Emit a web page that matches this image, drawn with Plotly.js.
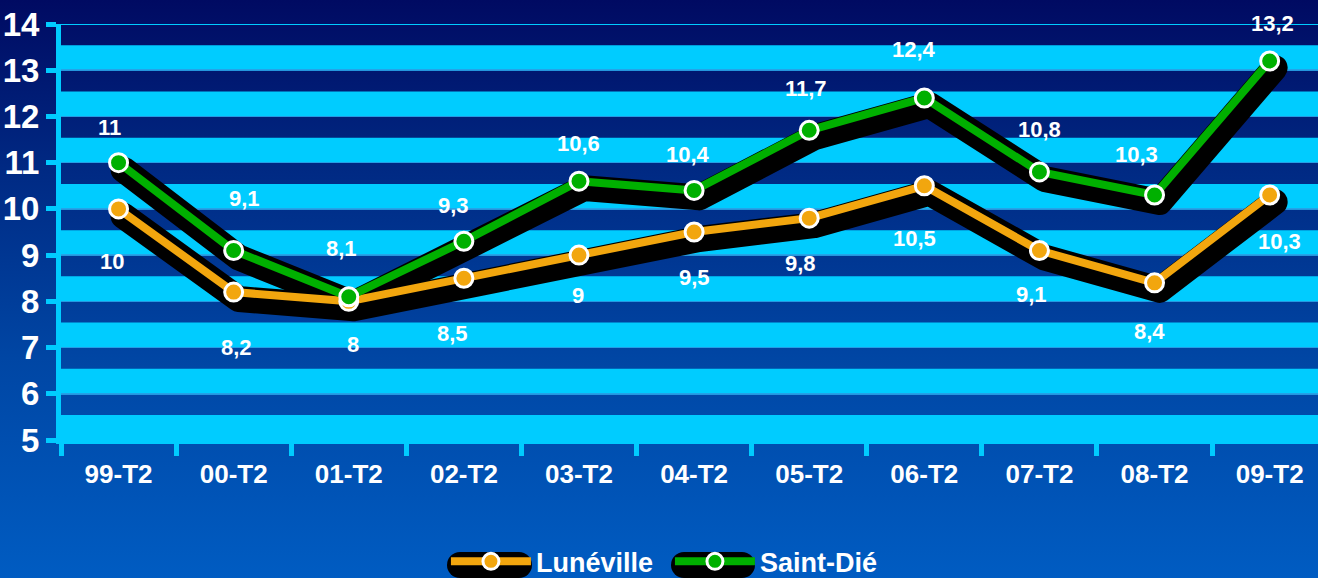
<!DOCTYPE html>
<html>
<head>
<meta charset="utf-8">
<script src="https://cdn.plot.ly/plotly-3.0.1.min.js"></script>
<style>
  html, body { margin: 0; padding: 0; overflow: hidden; }
  #chart {
    width: 1318px; height: 578px;
    background: linear-gradient(to bottom, #000A62 0%, #002A84 30%, #0046A4 62%, #005CC2 100%);
  }
  .scatterlayer .js-line { stroke-linejoin: round; stroke-linecap: round; }
</style>
</head>
<body>
<div id="chart"></div>
<script>
// ---- data ----
var categories = ['99-T2', '00-T2', '01-T2', '02-T2', '03-T2', '04-T2', '05-T2', '06-T2', '07-T2', '08-T2', '09-T2'];
var luneville = [10, 8.2, 8, 8.5, 9, 9.5, 9.8, 10.5, 9.1, 8.4, 10.3];
var saintDie = [11, 9.1, 8.1, 9.3, 10.6, 10.4, 11.7, 12.4, 10.8, 10.3, 13.2];
var yTickValues = [5, 6, 7, 8, 9, 10, 11, 12, 13, 14];

// ---- label placement (pixel offsets from each point) ----
var lunevilleLabelDx = [-7, 3, 4, -11, -1, 0, -9, -10, -8, -5, 10];
var lunevilleLabelDy = [53, 55, 43, 55, 40, 45, 45, 53, 44, 49, 46];
var saintDieLabelDx = [-9, 11, -7, -10, 0, -6, -3, -10, 0, -18, 3];
var saintDieLabelDy = [-35, -52, -48, -36, -38, -36, -42, -48, -42, -41, -37];

// ---- styles ----
var CYAN = '#00CCFF';
var ORANGE = '#F2A60E';
var GREEN = '#00B000';
var SHADOW_DX = 5, SHADOW_DY = 7;
var CAT_PX = 115.1, UNIT_PX = 46.29;
var xRange = [-0.5, 10.42];
var yRange = [5, 14];
var PLOT_L = 61, PLOT_R = 1318, PLOT_T = 24, PLOT_B = 440;

function fmt(v) { return String(v).replace('.', ','); }

// shadows live on the base (hidden, shifted) axes so they are drawn first
function shadowTrace(vals) {
  return {
    x: categories, y: vals, type: 'scatter', mode: 'lines',
    xaxis: 'x', yaxis: 'y', showlegend: false, hoverinfo: 'skip',
    line: { color: '#000000', width: 26 }
  };
}
function mainTrace(name, vals, color) {
  return {
    x: categories, y: vals, type: 'scatter', mode: 'lines+markers', name: name,
    xaxis: 'x2', yaxis: 'y2',
    line: { color: color, width: 8 },
    marker: { symbol: 'circle', size: 18, color: color, line: { color: '#FFFFFF', width: 3 } }
  };
}

var traces = [
  shadowTrace(luneville),
  shadowTrace(saintDie),
  mainTrace('Lunéville', luneville, ORANGE),
  mainTrace('Saint-Dié', saintDie, GREEN)
];

var labelFont = { family: 'Liberation Sans, Arial, sans-serif', size: 22, color: '#FFFFFF', weight: 'bold' };
var annotations = [];
function addLabels(vals, dxs, dys) {
  for (var i = 0; i < vals.length; i++) {
    annotations.push({
      x: categories[i], y: vals[i], xref: 'x2', yref: 'y2',
      text: fmt(vals[i]), showarrow: false,
      xanchor: 'center', yanchor: 'middle',
      xshift: dxs[i], yshift: -dys[i],
      font: labelFont
    });
  }
}
addLabels(luneville, lunevilleLabelDx, lunevilleLabelDy);
addLabels(saintDie, saintDieLabelDx, saintDieLabelDy);

// cyan stripes (lower part of each unit band)
var shapes = [];
for (var k = 0; k < yTickValues.length - 1; k++) {
  shapes.push({
    type: 'rect', xref: 'paper', yref: 'y2', x0: 0, x1: 1,
    y0: yTickValues[k], y1: yTickValues[k] + 0.54,
    fillcolor: CYAN, line: { width: 0 }, layer: 'below'
  });
}
shapes.push({
  type: 'line', xref: 'paper', yref: 'y2', x0: 0, x1: 1,
  y0: yRange[1], y1: yRange[1], line: { color: CYAN, width: 2 }, layer: 'below'
});

// black rounded "shadow" pills behind the legend symbols (pixel geometry)
function px2paperX(px) { return (px - PLOT_L) / (PLOT_R - PLOT_L); }
function px2paperY(py) { return (PLOT_B - py) / (PLOT_B - PLOT_T); }
function pill(x0, x1, cy, r) {
  var out = [];
  out.push({ type: 'rect', xref: 'paper', yref: 'paper', xsizemode: 'pixel', ysizemode: 'pixel',
    xanchor: px2paperX(x0 + r), yanchor: px2paperY(cy),
    x0: 0, x1: (x1 - x0 - 2 * r), y0: -r, y1: r,
    fillcolor: '#000000', line: { width: 0 }, layer: 'above' });
  [x0 + r, x1 - r].forEach(function (c) {
    out.push({ type: 'circle', xref: 'paper', yref: 'paper', xsizemode: 'pixel', ysizemode: 'pixel',
      xanchor: px2paperX(c), yanchor: px2paperY(cy),
      x0: -r, x1: r, y0: -r, y1: r,
      fillcolor: '#000000', line: { width: 0 }, layer: 'above' });
  });
  return out;
}
shapes = shapes.concat(pill(447, 532, 565, 13), pill(671, 755, 565, 13));

var tickFontY = { family: 'Liberation Sans, Arial, sans-serif', size: 33, color: '#FFFFFF', weight: 'bold' };
var tickFontX = { family: 'Liberation Sans, Arial, sans-serif', size: 26, color: '#FFFFFF', weight: 'bold' };

var layout = {
  width: 1318, height: 578,
  margin: { l: PLOT_L, r: 1318 - PLOT_R, t: PLOT_T, b: 578 - PLOT_B },
  paper_bgcolor: 'rgba(0,0,0,0)',
  plot_bgcolor: 'rgba(0,0,0,0)',
  showlegend: true,
  legend: {
    orientation: 'h', xref: 'container', yref: 'container',
    x: 0.5083, xanchor: 'center', y: 0.028, yanchor: 'middle',
    bgcolor: 'rgba(0,0,0,0)', itemwidth: 80, entrywidth: 129,
    font: { family: 'Liberation Sans, Arial, sans-serif', size: 27, color: '#FFFFFF', weight: 'bold' }
  },
  // hidden, shifted axes carrying the drop shadows
  xaxis: {
    type: 'category', visible: false,
    range: [xRange[0] - SHADOW_DX / CAT_PX, xRange[1] - SHADOW_DX / CAT_PX]
  },
  yaxis: {
    visible: false,
    range: [yRange[0] + SHADOW_DY / UNIT_PX, yRange[1] + SHADOW_DY / UNIT_PX]
  },
  // visible axes
  xaxis2: {
    type: 'category', overlaying: 'x', range: xRange, tickson: 'boundaries',
    showgrid: false, zeroline: false,
    showline: true, linecolor: CYAN, linewidth: 4,
    ticks: 'outside', ticklen: 12, tickwidth: 5, tickcolor: CYAN,
    ticklabelstandoff: 8,
    tickfont: tickFontX
  },
  yaxis2: {
    overlaying: 'y', range: yRange, tickvals: yTickValues, ticktext: yTickValues.map(String),
    showgrid: true, gridcolor: 'rgba(40,160,230,0.9)', gridwidth: 1.5, zeroline: false,
    showline: true, linecolor: CYAN, linewidth: 5,
    ticks: 'outside', ticklen: 10, tickwidth: 5, tickcolor: CYAN,
    tickfont: tickFontY
  },
  shapes: shapes,
  annotations: annotations
};

Plotly.newPlot('chart', traces, layout, { staticPlot: true, displayModeBar: false });
</script>
</body>
</html>
